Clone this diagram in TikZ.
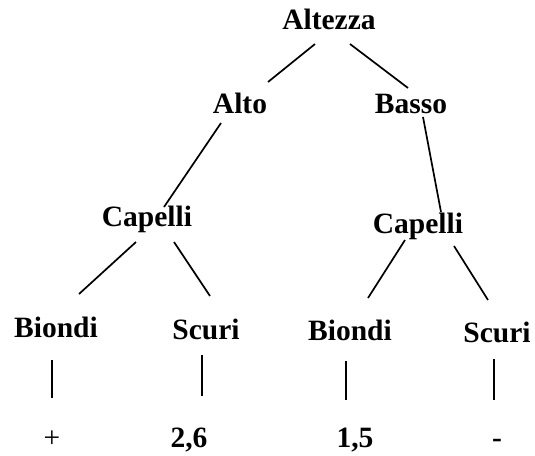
\documentclass[tikz,border=0pt]{standalone}
\usepackage{fontspec}
\setmainfont{Liberation Serif}
\usetikzlibrary{positioning}

\tikzset{
    word/.style={anchor=base, inner sep=0pt, font=\bfseries\fontsize{29.5}{29.5}\selectfont},
    branch/.style={line width=1.7pt}
}

\begin{document}
\begin{tikzpicture}[x=1pt,y=-1pt]
    \useasboundingbox (0,0) rectangle (535,455);
    % tree levels
    \node[word] (altezza) at (329,29)  {Altezza};
    \node[word] (alto)    at (240,113) {Alto};
    \node[word] (basso)   at (411,113) {Basso};
    \node[word] (capL)    at (147,226) {Capelli};
    \node[word] (capR)    at (418,233) {Capelli};
    \node[word] (biondiL) at (56,337)  {Biondi};
    \node[word] (scuriL)  at (206,339) {Scuri};
    \node[word] (biondiR) at (350,340) {Biondi};
    \node[word] (scuriR)  at (497,342) {Scuri};
    % leaves
    \node[word,font=\mdseries\fontsize{29.5}{29.5}\selectfont] (plus) at (52,447) {+};
    \node[word] (val26) at (189,447) {2,6};
    \node[word] (val15) at (355,447) {1,5};
    \node[word] (minus) at (497,447) {-};
    \draw[branch] ([shift={(-14,15)}]altezza.base) -- ([shift={(28,-31)}]alto.base);
    \draw[branch] ([shift={(21,15)}]altezza.base)  -- ([shift={(-3,-25)}]basso.base);
    \draw[branch] ([shift={(-19,10)}]alto.base)    -- ([shift={(17,-19)}]capL.base);
    \draw[branch] ([shift={(12,4)}]basso.base)     -- ([shift={(23,-21)}]capR.base);
    \draw[branch] ([shift={(-11,16)}]capL.base)    -- ([shift={(23,-43)}]biondiL.base);
    \draw[branch] ([shift={(27,16)}]capL.base)     -- ([shift={(4,-43)}]scuriL.base);
    \draw[branch] ([shift={(-13,7)}]capR.base)     -- ([shift={(18,-42)}]biondiR.base);
    \draw[branch] ([shift={(36,13)}]capR.base)     -- ([shift={(-9,-42)}]scuriR.base);
    \draw[branch] ([shift={(-4,23)}]biondiL.base) -- ([shift={(-4,61)}]biondiL.base);
    \draw[branch] ([shift={(-4,16)}]scuriL.base)  -- ([shift={(-4,57)}]scuriL.base);
    \draw[branch] ([shift={(-4,21)}]biondiR.base) -- ([shift={(-4,60)}]biondiR.base);
    \draw[branch] ([shift={(-3,17)}]scuriR.base)  -- ([shift={(-3,58)}]scuriR.base);
\end{tikzpicture}
\end{document}
